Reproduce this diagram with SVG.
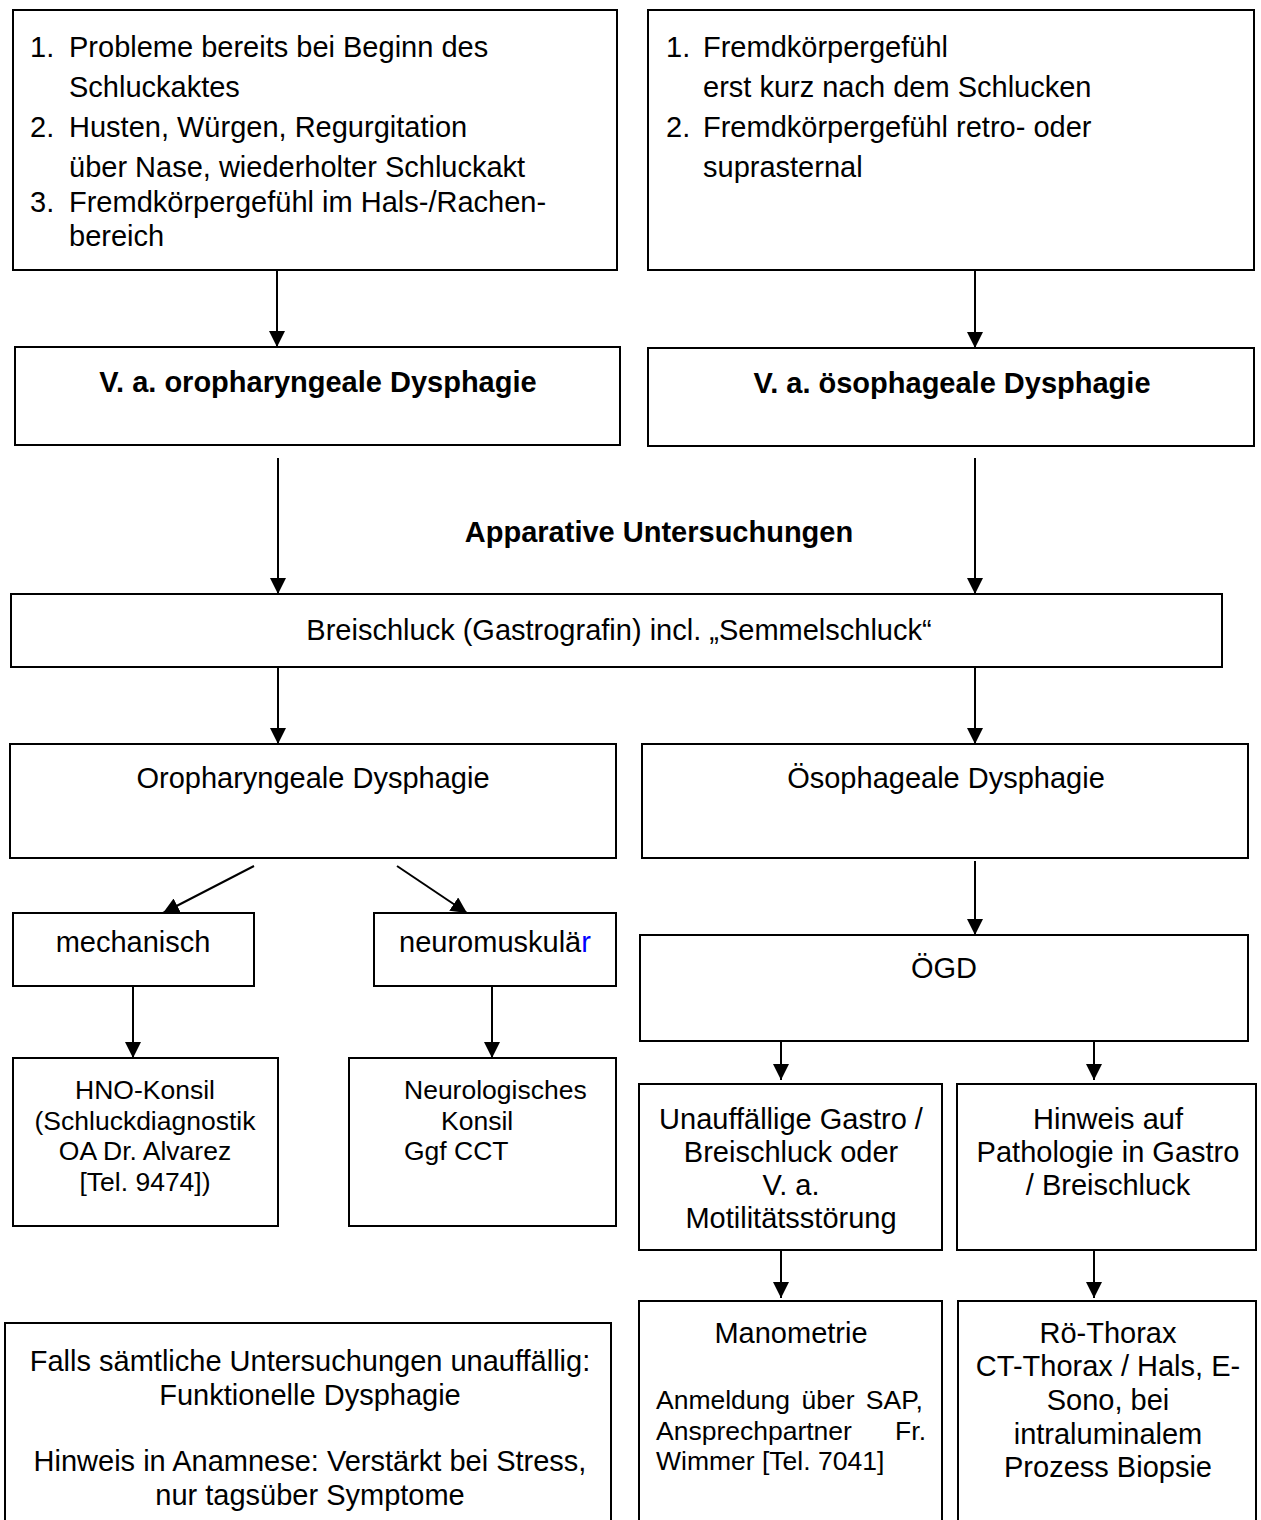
<svg xmlns="http://www.w3.org/2000/svg" width="1261" height="1520" viewBox="0 0 1261 1520">
<defs>
<style>
.box{fill:#fff;stroke:#000;stroke-width:2}
text{font-family:"Liberation Sans",Arial,sans-serif;font-size:29px;fill:#000}
.s{font-size:26.5px}
.b{font-weight:bold}
.c{text-anchor:middle}
.conn line{stroke:#000;stroke-width:2;marker-end:url(#ah)}
</style>
<marker id="ah" markerUnits="userSpaceOnUse" markerWidth="16" markerHeight="16" refX="16" refY="8" orient="auto">
<path d="M0,0 L16,8 L0,16 z" fill="#000"/>
</marker>
</defs>
<rect width="1261" height="1520" fill="#fff"/>

<g id="n1">
<rect class="box" x="13" y="10" width="604" height="260"/>
<text x="30" y="57">1.<tspan x="69">Probleme bereits bei Beginn des</tspan></text>
<text x="69" y="97">Schluckaktes</text>
<text x="30" y="137">2.<tspan x="69">Husten, Würgen, Regurgitation</tspan></text>
<text x="69" y="177">über Nase, wiederholter Schluckakt</text>
<text x="30" y="212">3.<tspan x="69">Fremdkörpergefühl im Hals-/Rachen-</tspan></text>
<text x="69" y="246">bereich</text>
</g>

<g id="n2">
<rect class="box" x="648" y="10" width="606" height="260"/>
<text x="666" y="57">1.<tspan x="703">Fremdkörpergefühl</tspan></text>
<text x="703" y="97">erst kurz nach dem Schlucken</text>
<text x="666" y="137">2.<tspan x="703">Fremdkörpergefühl retro- oder</tspan></text>
<text x="703" y="177">suprasternal</text>
</g>

<g id="n3">
<rect class="box" x="15" y="347" width="605" height="98"/>
<text class="b c" x="318" y="392">V. a. oropharyngeale Dysphagie</text>
</g>

<g id="n4">
<rect class="box" x="648" y="348" width="606" height="98"/>
<text class="b c" x="952" y="393">V. a. ösophageale Dysphagie</text>
</g>

<g id="label-apparative">
<text class="b c" x="659" y="542">Apparative Untersuchungen</text>
</g>

<g id="n5">
<rect class="box" x="11" y="594" width="1211" height="73"/>
<text class="c" x="619" y="640">Breischluck (Gastrografin) incl. „Semmelschluck“</text>
</g>

<g id="n6">
<rect class="box" x="10" y="744" width="606" height="114"/>
<text class="c" x="313" y="788">Oropharyngeale Dysphagie</text>
</g>

<g id="n7">
<rect class="box" x="642" y="744" width="606" height="114"/>
<text class="c" x="946" y="788">Ösophageale Dysphagie</text>
</g>

<g id="n8">
<rect class="box" x="13" y="913" width="241" height="73"/>
<text class="c" x="133" y="952">mechanisch</text>
</g>

<g id="n9">
<rect class="box" x="374" y="913" width="242" height="73"/>
<text class="c" x="495" y="952">neuromusku<tspan>lä</tspan><tspan fill="#0000ff">r</tspan></text>
</g>

<g id="n10">
<rect class="box" x="640" y="935" width="608" height="106"/>
<text class="c" x="944" y="978">ÖGD</text>
</g>

<g id="n11">
<rect class="box" x="13" y="1058" width="265" height="168"/>
<text class="s c" x="145" y="1099">HNO-Konsil</text>
<text class="s c" x="145" y="1130">(Schluckdiagnostik</text>
<text class="s c" x="145" y="1160">OA Dr. Alvarez</text>
<text class="s c" x="145" y="1191">[Tel. 9474])</text>
</g>

<g id="n12">
<rect class="box" x="349" y="1058" width="267" height="168"/>
<text class="s" x="404" y="1099">Neurologisches</text>
<text class="s" x="441" y="1130">Konsil</text>
<text class="s" x="404" y="1160">Ggf CCT</text>
</g>

<g id="n13">
<rect class="box" x="639" y="1084" width="303" height="166"/>
<text class="c" x="791" y="1129">Unauffällige Gastro /</text>
<text class="c" x="791" y="1162">Breischluck oder</text>
<text class="c" x="791" y="1195">V. a.</text>
<text class="c" x="791" y="1228">Motilitätsstörung</text>
</g>

<g id="n14">
<rect class="box" x="957" y="1084" width="299" height="166"/>
<text class="c" x="1108" y="1129">Hinweis auf</text>
<text class="c" x="1108" y="1162">Pathologie in Gastro</text>
<text class="c" x="1108" y="1195">/ Breischluck</text>
</g>

<g id="n15">
<rect class="box" x="639" y="1301" width="303" height="240"/>
<text class="c" x="791" y="1343">Manometrie</text>
<text class="s" x="656" y="1409" word-spacing="4">Anmeldung über SAP,</text>
<text class="s" x="656" y="1440">Ansprechpartner<tspan x="926" text-anchor="end">Fr.</tspan></text>
<text class="s" x="656" y="1470">Wimmer [Tel. 7041]</text>
</g>

<g id="n16">
<rect class="box" x="958" y="1301" width="298" height="240"/>
<text class="c" x="1108" y="1343">Rö-Thorax</text>
<text class="c" x="1108" y="1376">CT-Thorax / Hals, E-</text>
<text class="c" x="1108" y="1410">Sono, bei</text>
<text class="c" x="1108" y="1444">intraluminalem</text>
<text class="c" x="1108" y="1477">Prozess Biopsie</text>
</g>

<g id="n17">
<rect class="box" x="5" y="1323" width="606" height="220"/>
<text class="c" x="310" y="1371">Falls sämtliche Untersuchungen unauffällig:</text>
<text class="c" x="310" y="1405">Funktionelle Dysphagie</text>
<text class="c" x="310" y="1471">Hinweis in Anamnese: Verstärkt bei Stress,</text>
<text class="c" x="310" y="1505">nur tagsüber Symptome</text>
</g>

<g id="connectors" class="conn">
<line x1="277" y1="270" x2="277" y2="347"/>
<line x1="975" y1="270" x2="975" y2="348"/>
<line x1="278" y1="458" x2="278" y2="594"/>
<line x1="975" y1="458" x2="975" y2="594"/>
<line x1="278" y1="668" x2="278" y2="744"/>
<line x1="975" y1="668" x2="975" y2="744"/>
<line x1="254" y1="866" x2="163" y2="913"/>
<line x1="397" y1="866" x2="467" y2="913"/>
<line x1="975" y1="861" x2="975" y2="935"/>
<line x1="133" y1="987" x2="133" y2="1058"/>
<line x1="492" y1="987" x2="492" y2="1058"/>
<line x1="781" y1="1042" x2="781" y2="1080"/>
<line x1="1094" y1="1042" x2="1094" y2="1080"/>
<line x1="781" y1="1249" x2="781" y2="1298"/>
<line x1="1094" y1="1249" x2="1094" y2="1298"/>
</g>
</svg>
